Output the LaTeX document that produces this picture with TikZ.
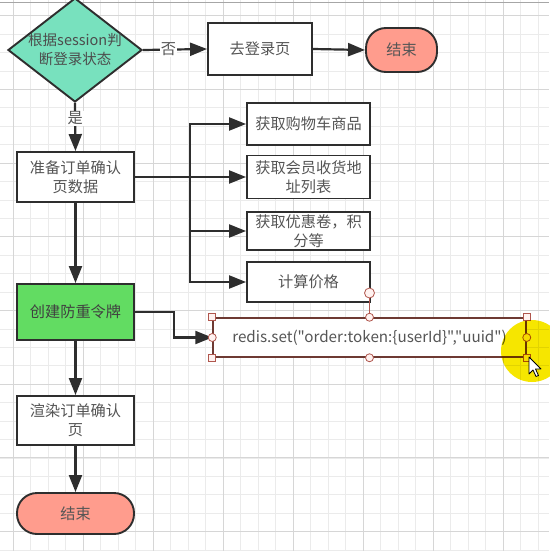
\documentclass[tikz,border=0pt]{standalone}
\usepackage{fontspec}
\newfontfamily\cjk{Noto Sans CJK SC}
\usetikzlibrary{shapes.geometric,arrows.meta}
\definecolor{linec}{HTML}{2E2E2E}
\definecolor{txtc}{HTML}{555555}
\definecolor{mint}{HTML}{78E1BE}
\definecolor{tokgreen}{HTML}{62DC62}
\definecolor{salmon}{HTML}{FF9C8D}
\definecolor{handc}{HTML}{B0564D}
\definecolor{handf}{HTML}{FFF2F0}
\definecolor{selc}{HTML}{6E3A33}
\definecolor{hilite}{HTML}{F6E600}
\begin{document}
\begin{tikzpicture}[x=1pt,y=-1pt,
  every node/.style={font=\cjk\fontsize{15.2}{19}\selectfont,text=txtc},
  box/.style={draw=linec,line width=1.9pt,fill=white,minimum width=117pt,align=center,inner sep=0pt},
  endbox/.style={box,fill=salmon,rounded corners=20pt},
  arr/.style={draw=linec,line width=2.2pt,-{Triangle[length=17pt,width=13pt]}},
  gridl/.style={draw=black!8,line width=.6pt},
  gridm/.style={draw=black!16,line width=.8pt},
  hsq/.style={draw=handc,fill=handf,line width=.8pt,minimum size=7pt,inner sep=0pt},
  hcirc/.style={circle,draw=handc,fill=handf,line width=.8pt,minimum size=8pt,inner sep=0pt}]
\useasboundingbox (0,0) rectangle (549,551);
\fill[white] (0,0) rectangle (549,551);
\foreach \i in {0,...,32} \draw[gridl] ({-4.5+17.5*\i},0) -- ++(0,551);
\foreach \i in {0,...,30} \draw[gridl] (0,{-2.8+18.425*\i}) -- ++(549,0);
\foreach \i in {0,...,7} \draw[gridm] ({13+70*\i},0) -- ++(0,551);
\foreach \i in {0,...,7} \draw[gridm] (0,{15.6+73.7*\i}) -- ++(549,0);
\draw[black!35,line width=.8pt] (0,2.5) -- (549,2.5);

\node[diamond,draw=linec,line width=1.9pt,fill=mint,minimum width=134pt,minimum height=104pt,inner sep=0pt] (chk) at (75,50) {};
\node[align=center,text=black!70,font=\cjk\fontsize{14.5}{19}\selectfont] (chktxt) at (chk.center) {根据session判\\断登录状态};
\node[box,minimum width=104pt,minimum height=52pt] (login) at (260,49) {去登录页};
\node[endbox,minimum width=71pt,minimum height=44pt] (end1) at (401.5,50) {结束};
\node[box,minimum height=50pt] (prep) at (75.5,177) {准备订单确认\\页数据};
\node[box,minimum width=123pt,minimum height=42pt] (cart) at (308.5,124) {获取购物车商品};
\node[box,minimum width=123pt,minimum height=43pt] (addr) at (308.5,177) {获取会员收货地\\址列表};
\node[box,minimum width=123pt,minimum height=38pt] (coupon) at (308.5,231) {获取优惠卷，积\\分等};
\node[box,minimum width=123pt,minimum height=40pt] (price) at (308.5,282) {计算价格};
\node[box,fill=tokgreen,minimum height=56pt,text=black!75] (token) at (75.5,312) {创建防重令牌};
\node[draw=selc,line width=1.5pt,fill=white,minimum width=313pt,minimum height=39pt,inner sep=0pt] (redis) at (369.5,337.5) {redis.set("order:token:\{userId\}","uuid")};
\node[box,minimum height=49pt] (render) at (75.5,420.5) {渲染订单确认\\页};
\node[endbox,minimum height=41pt] (end2) at (75.5,513.5) {结束};
\coordinate (fork) at (190,177);

\draw[arr] (chk.east) -- node[pos=.4,fill=white,inner sep=1pt]{否} (login.west);
\draw[arr] (login.east) -- (end1.west);
\draw[arr] (chk.south) -- node[pos=.32,fill=white,inner sep=1pt]{是} (prep.north);
\draw[draw=linec,line width=2.2pt] (prep.east) -- (fork);
\draw[arr] (fork) |- (cart.west);
\draw[arr] (fork) -- (addr.west);
\draw[arr] (fork) |- (coupon.west);
\draw[arr] (fork) |- (price.west);
\draw[arr] (prep.south) -- (token.north);
\draw[arr] (token.east) -- ++(39,0) |- (redis.west);
\draw[arr] (token.south) -- (render.north);
\draw[arr] (render.south) -- (end2.north);

\node[hcirc,minimum size=10pt] (rot) at (369.5,293) {};
\draw[handc,line width=.8pt] (rot) -- (redis.north);
\foreach \a in {north west,north east,south west,south east} \node[hsq] at (redis.\a) {};
\foreach \a in {north,south,west,east} \node[hcirc] at (redis.\a) {};
\fill[hilite,blend mode=multiply] (532,351) circle (31);
\draw[fill=white,draw=black,line width=.8pt,line join=round,shift={(529,357)}] (0,0) -- (0,17) -- (4,13) -- (7,19.5) -- (9.5,18.5) -- (6.5,12) -- (12,12) -- cycle;
\end{tikzpicture}
\end{document}
